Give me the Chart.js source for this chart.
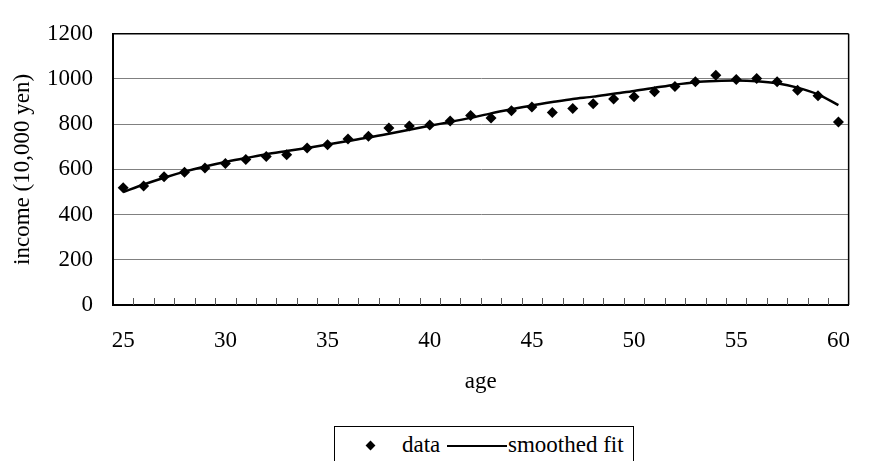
<!DOCTYPE html>
<html>
<head>
<meta charset="utf-8">
<script src="https://cdn.jsdelivr.net/npm/chart.js@4/dist/chart.umd.min.js"></script>
<style>
  html, body { margin: 0; padding: 0; background: #fff; }
  #wrap { position: relative; width: 872px; height: 461px; overflow: hidden; }
  canvas { display: block; }
  #legend { position: absolute; left: 334px; top: 426px; width: 298px; height: 44px;
            border: 1px solid #000; background: #fff;
            font-family: 'Liberation Serif', 'Times New Roman', 'DejaVu Serif', serif; font-size: 23px; line-height: 23px; color: #000; }
  #legend .dia { position: absolute; left: 32px; top: 15px; width: 7px; height: 7px; background: #000; transform: rotate(45deg); }
  #legend .lbl { position: absolute; top: 6px; white-space: nowrap; }
  #legend .ln { position: absolute; left: 112px; top: 18px; width: 60px; height: 2px; background: #000; }
</style>
</head>
<body>
<div id="wrap">
  <canvas id="c" width="872" height="461"></canvas>
  <div id="legend">
    <div class="dia"></div><span class="lbl" style="left:67px">data</span>
    <div class="ln"></div><span class="lbl" style="left:173px">smoothed fit</span>
  </div>
</div>
<script>
const ages = [25,26,27,28,29,30,31,32,33,34,35,36,37,38,39,40,41,42,43,44,45,46,47,48,49,50,51,52,53,54,55,56,57,58,59,60];
const dataValues = [519,526,568,587,606,626,644,657,665,695,709,734,747,783,792,797,814,838,827,860,876,852,870,891,911,922,944,967,988,1017,998,1002,988,950,926,810];
const fitValues = [500,533,563,590,613,633,650,667,681,695,710,726,741,758,775,793,810,828,848,866,883,898,912,922,935,947,961,975,986,991,993,990,981,962,932,884];
const yTicks = [0,200,400,600,800,1000,1200];
const labelEvery = 5;

const FONT = "'Liberation Serif', 'Times New Roman', 'DejaVu Serif', serif";

const framePlugin = {
  id: 'frame',
  afterDraw(chart) {
    const {ctx, chartArea: a, scales: {x}} = chart;
    ctx.save();
    ctx.strokeStyle = '#555';
    ctx.lineWidth = 1;
    ctx.beginPath();
    for (let i = 1; i < ages.length; i++) {
      const px = Math.round((x.getPixelForValue(i - 1) + x.getPixelForValue(i)) / 2) + 0.5;
      ctx.moveTo(px, a.bottom);
      ctx.lineTo(px, a.bottom - 7);
    }
    ctx.stroke();
    ctx.strokeStyle = '#000';
    ctx.lineWidth = 1.5;
    ctx.beginPath();
    ctx.moveTo(a.right, a.top);
    ctx.lineTo(a.right, a.bottom);
    ctx.stroke();
    ctx.restore();
  }
};

new Chart(document.getElementById('c'), {
  type: 'line',
  data: {
    labels: ages.map(String),
    datasets: [
      {
        label: 'data',
        data: dataValues,
        showLine: false,
        pointStyle: 'rectRot',
        pointRadius: 5.5,
        pointBackgroundColor: '#000',
        pointBorderColor: '#000',
        pointBorderWidth: 0,
        order: 0
      },
      {
        label: 'smoothed fit',
        data: fitValues,
        borderColor: '#000',
        borderWidth: 2.5,
        pointRadius: 0,
        tension: 0.3,
        fill: false,
        order: 1
      }
    ]
  },
  options: {
    responsive: false,
    animation: false,
    layout: { padding: { top: 20, right: 6, left: 0, bottom: 0 } },
    plugins: { legend: { display: false }, tooltip: { enabled: false } },
    scales: {
      x: {
        type: 'category',
        offset: true,
        afterFit(s) { s.height = 156; },
        grid: { display: true, drawOnChartArea: false, drawTicks: false, offset: true, color: '#555' },
        border: { display: true, color: '#000', width: 2 },
        ticks: {
          autoSkip: false, maxRotation: 0, padding: 22, color: '#000',
          font: { family: FONT, size: 23 },
          callback(v, i) { return ages[i] % labelEvery === 0 ? String(ages[i]) : ''; }
        },
        title: { display: true, text: 'age', color: '#000', font: { family: FONT, size: 23 }, padding: { top: 0, bottom: 65 } }
      },
      y: {
        min: 0, max: 1200,
        afterFit(s) { s.width = 113; },
        afterBuildTicks(s) { s.ticks = yTicks.map(v => ({ value: v })); },
        grid: {
          drawTicks: false,
          color(ctx) { return ctx.tick && ctx.tick.value === 1200 ? '#000' : '#808080'; },
          lineWidth(ctx) { return ctx.tick && ctx.tick.value === 1200 ? 1.5 : 1; }
        },
        border: { display: true, color: '#000', width: 2 },
        ticks: { padding: 20, color: '#000', font: { family: FONT, size: 23 }, callback(v) { return String(v); } },
        title: { display: true, text: 'income (10,000 yen)', color: '#000', font: { family: FONT, size: 23 }, padding: { top: 9, bottom: 0 } }
      }
    }
  },
  plugins: [framePlugin]
});
</script>
</body>
</html>
